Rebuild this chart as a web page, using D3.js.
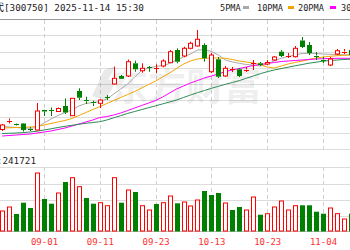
<!DOCTYPE html>
<html><head><meta charset="utf-8">
<script src="https://cdn.jsdelivr.net/npm/d3@7"></script>
<style>body{margin:0;background:#fff;overflow:hidden}svg{display:block}</style>
</head><body>
<svg id="c" width="350" height="250"></svg>
<script>
const dates = ["08-22","08-25","08-26","08-27","08-28","08-29","09-01","09-02","09-03","09-04","09-05","09-08","09-09","09-10","09-11","09-12","09-15","09-16","09-17","09-18","09-19","09-22","09-23","09-24","09-25","09-26","09-29","09-30","10-09","10-10","10-13","10-14","10-15","10-16","10-17","10-20","10-21","10-22","10-23","10-24","10-27","10-28","10-29","10-30","10-31","11-03","11-04","11-05","11-06","11-07","11-10"];
const openP  = [269.5,277.7,275,275.5,270.5,269,289,288.7,287.5,293,283.3,308,298.7,296.7,295.7,301.7,315,323,323,335.7,328.3,331.7,330.2,333,336.3,349,343,350.7,353,354,327.3,339.7,323,329.2,329.7,329,335,335.7,335,339,347.3,342.7,342.3,358.5,354,343.5,339.5,334,345,347,349];
const closeP = [274,278.3,273.5,269,269.5,288,287.5,288,290.5,286.5,300.7,301.3,297.7,295.7,299,301,320.7,320.2,337.3,329.7,330.7,331,330.7,338,347.3,337.3,350.7,355.7,359.7,340.7,344,322.3,330.7,329.7,323,329.5,335.7,334,336.5,342,343,343.2,350.7,352,346,342.5,338.5,340,348.3,347.5,344];
const highP  = [275,280.5,275.5,276,272,296,289.2,291.5,291.5,300.5,301,310.7,302.3,298.3,299.5,304,332.3,324,339.5,338.3,335.7,333,334.7,339.7,349,350.7,352.3,357.3,369,355.7,346,342,333,332,331,332,339,337,339,343,349,346,353,362,357,347,342,342,350,350,351];
const lowP   = [268,275.5,273,267.5,268,268.5,283,283,287,285,283,299,295,293,291,299,314.5,320,322,327.3,326.3,327.3,325.7,331.7,336,335.7,341.7,349.7,352.5,337.3,326,321,322,327,322,327,329,333,334,338,342,341,341.5,351,344,339,336,333,344,345,343];
const volume = [206900,248300,175900,292800,237900,600000,331000,282400,393100,506900,551400,458300,341400,282400,292800,261700,551400,292800,424100,403400,261700,217200,279300,292800,362100,286600,300000,258600,320700,413800,372400,393100,289700,217200,248300,217200,351700,168600,179000,248300,310300,217200,261700,265900,265900,199700,179000,237900,179000,124100,179000];
const volUp = [1,1,0,0,0,1,0,0,1,0,1,1,0,0,1,1,1,0,1,0,1,1,0,1,1,0,1,1,1,0,0,0,1,0,0,1,1,0,1,1,1,1,1,0,0,0,0,1,1,1,0];
const ma5  = [272.5,272,271.5,271,270.7,271.5,276,280,283.5,286.5,289,293,295.5,296.5,297.3,300,305,310,315,322,328.5,331,332.5,333.5,335.5,339,342,345,349,349.5,347.5,344,339,337,335.7,334.5,334,333,335,338,340.7,342.5,344,345.5,345.7,345.5,345,344.7,344.5,344.2,344];
const ma10 = [271,271.2,271.5,271.7,272,272.5,274,275.5,277,278.5,280.5,283.5,286.5,289.5,292.3,295.5,298.5,301.5,304.5,307.5,311,314.5,318,322,326,330.5,335,338,340,340.7,341,341,340.7,339.5,338,337,336,334.5,332,331,333,335,336.5,338,339.5,341,342,342.7,343.3,343.8,344];
const ma20 = [263,263.5,264,264.5,265,266,267,268,269.5,271,273,275,277,279,281.5,282.5,284,286,288.5,291,293.5,296,298.5,302,306,310,313,316,318.5,321,323,325,327.5,329,330.5,332,333.5,334.5,335.5,336.5,337.5,338,338.5,339,339.5,340,340.3,340.5,340.7,340.7,340.7];
const ma30 = [265.5,265.7,266,266.4,267,267.8,269,270.2,271.5,272.7,273.7,274.7,275.7,276.5,277.3,279,281.2,283.4,285.6,287.5,289.4,291.3,293.2,295.1,297,299,301.5,304,306.3,308.5,310.7,312.7,314.7,316.5,318.4,320.7,323,325.3,327.3,329,330.4,331.8,333.2,334.5,335.8,336.8,337.8,338.5,339,339.5,339.8];
const tickLabels = ["09-01","09-11","09-23","10-13","10-23","11-04"];
const legendNames = ["5PMA","10PMA","20PMA","30PMA"];
const stockName = "宁德时代";
const titleText = "[300750] 2025-11-14 15:30";
const volLabel = "VOL:241721";
const watermark = "东方财富";

const svg = d3.select("#c");
const RED = "#ff0000", GREEN = "#008000";
const maColors = ["#a8a8a8","#f5a500","#ff00ff","#2e8b57"];
const font = "'Noto Sans CJK SC','Noto Sans',sans-serif";
const mono = "'DejaVu Sans Mono','Noto Sans CJK SC',monospace";

const idx = d3.range(dates.length);
const x = d3.scaleLinear().domain([dates.indexOf("09-01"), dates.indexOf("11-04")]).range([44, 323]);
const y = d3.scaleLinear().domain([250, 380]).range([149, 19]);
const yv = d3.scaleLinear().domain([0, 600000]).range([231, 173]);

svg.append("defs").append("clipPath").attr("id","clip").append("rect").attr("x",0).attr("y",19).attr("width",350).attr("height",215);

// horizontal grid main
const mainGrid = d3.range(0, 9).map(i => 19 + i * (130/8));
svg.append("g").selectAll("line").data(mainGrid.slice(1)).join("line")
  .attr("x1",0).attr("x2",350).attr("y1",d=>Math.round(d)+0.5).attr("y2",d=>Math.round(d)+0.5)
  .attr("stroke","#dcdcdc").attr("stroke-width",1);
svg.append("line").attr("x1",0).attr("x2",350).attr("y1",19.5).attr("y2",19.5).attr("stroke","#999");
const volGrid = [167, 184, 200, 216];
svg.append("g").selectAll("line").data(volGrid).join("line")
  .attr("x1",0).attr("x2",350).attr("y1",d=>d+0.5).attr("y2",d=>d+0.5)
  .attr("stroke","#dcdcdc");
svg.append("line").attr("x1",0).attr("x2",350).attr("y1",231.5).attr("y2",231.5).attr("stroke","#bbb");

// vertical dashed grid
const tickIdx = tickLabels.map(t => dates.indexOf(t));
const vg = svg.append("g");
tickIdx.forEach(i => {
  const xx = Math.round(x(i)) + 0.5;
  vg.append("line").attr("x1",xx).attr("x2",xx).attr("y1",20).attr("y2",149).attr("stroke","#d0d0d0").attr("stroke-dasharray","4,3");
  vg.append("line").attr("x1",xx).attr("x2",xx).attr("y1",167).attr("y2",231).attr("stroke","#d0d0d0").attr("stroke-dasharray","4,3");
});

// watermark (logo + text)
const wm = svg.append("g").attr("fill","#000").attr("fill-opacity",0.085);
wm.append("path").attr("d","M92,96 L104,70 L116,66 L108,80 L118,78 L106,100 Z");
wm.append("text").attr("x",186).attr("y",100).attr("text-anchor","middle")
  .attr("font-family",font).attr("font-size",38).attr("font-weight","bold").text(watermark);

// MA lines
const g = svg.append("g").attr("clip-path","url(#clip)");
[ma5, ma10, ma20, ma30].forEach((arr, k) => {
  const line = d3.line().x(i => x(i)).y(i => y(arr[i]));
  g.append("path").attr("d", line(idx)).attr("fill","none").attr("stroke",maColors[k]).attr("stroke-width",1);
});

// candles
const cw = 5;
idx.forEach(i => {
  const o = openP[i], c = closeP[i], h = highP[i], l = lowP[i];
  const cx = Math.round(x(i));
  const up = c >= o;
  const col = up ? RED : GREEN;
  const top = y(Math.max(o,c)), bot = y(Math.min(o,c));
  const xl = cx + 0.5;
  g.append("line").attr("x1",xl).attr("x2",xl).attr("y1",y(h)).attr("y2",top).attr("stroke",col);
  g.append("line").attr("x1",xl).attr("x2",xl).attr("y1",bot).attr("y2",y(l)).attr("stroke",col);
  if (bot - top < 1.5) {
    g.append("line").attr("x1",cx-2).attr("x2",cx+3).attr("y1",Math.round(top)+0.5).attr("y2",Math.round(top)+0.5).attr("stroke",col);
  } else if (up) {
    g.append("rect").attr("x",cx-1.5).attr("y",top).attr("width",cw-1).attr("height",bot-top).attr("fill","#fff").attr("stroke",col);
  } else {
    g.append("rect").attr("x",cx-2).attr("y",top).attr("width",cw).attr("height",bot-top).attr("fill",col);
  }
});

// volume bars
const gv = svg.append("g");
idx.forEach(i => {
  const cx = Math.round(x(i));
  const t = yv(volume[i]);
  if (volUp[i]) {
    gv.append("rect").attr("x",cx-1.5).attr("y",t).attr("width",cw-1).attr("height",231-t).attr("fill","#fff").attr("stroke",RED);
  } else {
    gv.append("rect").attr("x",cx-2).attr("y",t).attr("width",cw).attr("height",231.5-t).attr("fill",GREEN);
  }
});

// x labels
svg.append("g").selectAll("text").data(tickIdx).join("text")
  .attr("x",i=>x(i)+0.5).attr("y",245).attr("text-anchor","middle")
  .attr("font-family",mono).attr("font-size",9).attr("fill","#ff3030")
  .text(i=>dates[i]);

// title: stock name partly off the left edge, code/time after it
const title = svg.append("text").attr("x",4).attr("y",11)
  .attr("font-family",mono).attr("font-size",9.3).attr("fill","#222");
title.append("tspan").attr("font-family",font).attr("font-size",10.5).attr("text-anchor","end").text(stockName);
title.append("tspan").attr("x",4).attr("text-anchor","start").text(titleText);

// legend
const legX = [220, 257, 298, 341];
legendNames.forEach((n,k) => {
  svg.append("text").attr("x",legX[k]).attr("y",11).attr("font-family",mono).attr("font-size",8.6).attr("fill","#222").text(n);
});
const markX = [243, 288, 330];
markX.forEach((mx,k) => {
  svg.append("rect").attr("x",mx).attr("y",6).attr("width",6).attr("height",3).attr("fill",maColors[k]);
});

// vol label
svg.append("text").attr("x",36).attr("y",164).attr("text-anchor","end")
  .attr("font-family",mono).attr("font-size",9.3).attr("fill","#222").text(volLabel);
</script>
</body></html>
